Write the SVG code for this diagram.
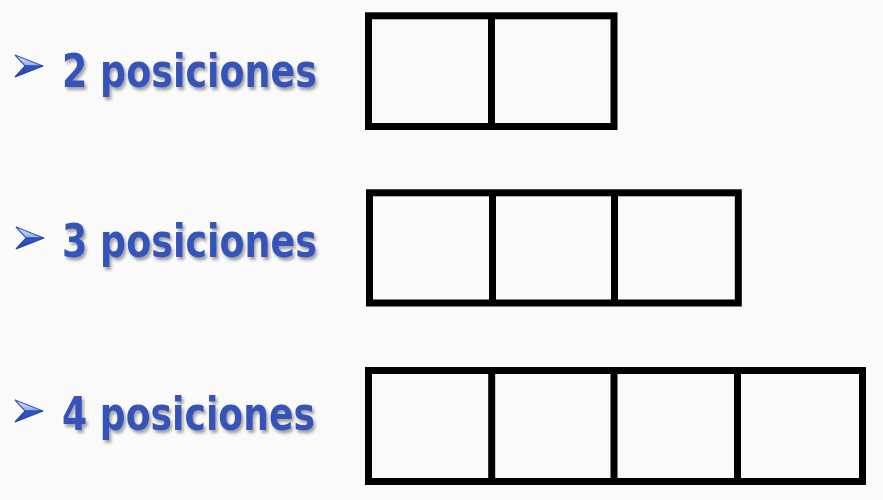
<svg xmlns="http://www.w3.org/2000/svg" width="883" height="500" viewBox="0 0 883 500">
  <defs>
    <linearGradient id="arrowTop" x1="0" y1="0" x2="0" y2="1">
      <stop offset="0" stop-color="#eef2fd"/>
      <stop offset="1" stop-color="#8aa4e4"/>
    </linearGradient>
    <linearGradient id="arrowBot" x1="0" y1="0" x2="0" y2="1">
      <stop offset="0" stop-color="#3358c8"/>
      <stop offset="1" stop-color="#1f3fa8"/>
    </linearGradient>
    <filter id="shadow" x="-10%" y="-20%" width="130%" height="160%">
      <feDropShadow dx="2" dy="3" stdDeviation="1.5" flood-color="#000" flood-opacity="0.35"/>
    </filter>
    <g id="arrow">
      <polygon points="0,0 28,11 10,11" fill="url(#arrowTop)" stroke="#3a5bc0" stroke-width="1.2"/>
      <polygon points="10,11 28,11 0,22" fill="url(#arrowBot)" stroke="#2746b0" stroke-width="1.2"/>
    </g>
  </defs>
  <style>
    .label { font-family: "DejaVu Sans", "Liberation Sans", sans-serif; font-weight: bold; font-size: 46px; fill: #3553b8; filter: url(#shadow); }
    .box { fill: none; stroke: #000; stroke-width: 7; }
  </style>
  <rect width="883" height="500" fill="#fafafa"/>

  <g id="row1">
    <use href="#arrow" x="15" y="55"/>
    <text class="label" x="62" y="87" textLength="255" lengthAdjust="spacingAndGlyphs">2 posiciones</text>
    <g id="boxes1">
      <rect class="box" x="368.5" y="15.8" width="245.5" height="110.7"/>
      <line class="box" x1="491.5" y1="15.8" x2="491.5" y2="126.5"/>
    </g>
  </g>

  <g id="row2">
    <use href="#arrow" x="16" y="227"/>
    <text class="label" x="62" y="257" textLength="255" lengthAdjust="spacingAndGlyphs">3 posiciones</text>
    <g id="boxes2">
      <rect class="box" x="369.5" y="192.8" width="368.8" height="110.2"/>
      <line class="box" x1="492.5" y1="192.8" x2="492.5" y2="303"/>
      <line class="box" x1="614.5" y1="192.8" x2="614.5" y2="303"/>
    </g>
  </g>

  <g id="row3">
    <use href="#arrow" x="15" y="400"/>
    <text class="label" x="62" y="430" textLength="253" lengthAdjust="spacingAndGlyphs">4 posiciones</text>
    <g id="boxes3">
      <rect class="box" x="368.5" y="370.5" width="494" height="111"/>
      <line class="box" x1="491.7" y1="370.5" x2="491.7" y2="481.5"/>
      <line class="box" x1="614" y1="370.5" x2="614" y2="481.5"/>
      <line class="box" x1="737.5" y1="370.5" x2="737.5" y2="481.5"/>
    </g>
  </g>
</svg>
